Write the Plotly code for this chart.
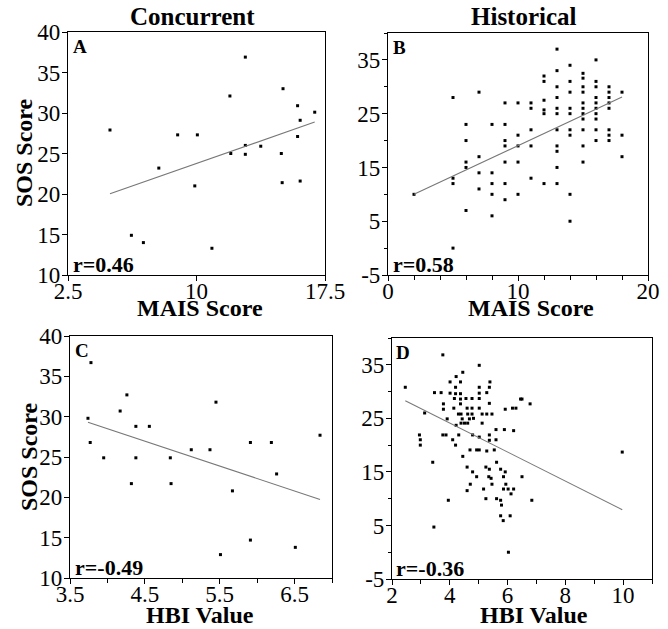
import numpy as np
import plotly.graph_objects as go

# ---------------- data ----------------
# Panel A: Concurrent, MAIS vs SOS
a_mais = [4.95, 6.2, 6.9, 7.8, 8.9, 9.9, 10.05, 10.9, 11.95, 12.0, 12.85, 12.85, 12.85,
          13.75, 14.95, 15.0, 15.05, 15.9, 15.9, 16.05, 16.05, 16.9]
a_sos = [27.9, 14.9, 14.0, 23.2, 27.3, 21.0, 27.3, 13.3, 32.1, 25.0, 36.9, 26.0, 24.9,
         25.9, 25.0, 21.4, 33.0, 30.9, 27.1, 29.1, 21.6, 30.1]
a_fit = [16.36, 0.741]   # intercept, slope

# Panel B: Historical, MAIS vs SOS (grouped by MAIS score)
b_groups = {
    2: [10],
    5: [28, 13, 12, 0],
    6: [23, 20, 16, 15, 7],
    7: [29, 17, 14, 11],
    8: [23, 14, 12, 10, 6],
    9: [27, 23, 20, 19, 16, 12, 9],
    10: [27, 21, 19, 16, 10],
    11: [27, 26, 22, 19, 13],
    12: [32, 31, 27.5, 25.7, 25, 12],
    13: [37, 33, 30, 28, 26, 25, 22, 19, 18, 15, 12],
    14: [34, 31, 29, 26, 25, 22, 21, 10, 5],
    15: [32.5, 31.6, 30, 29, 27, 26, 25, 24, 22, 19, 16],
    16: [35, 31, 30, 28, 27, 26, 25, 24, 22, 20],
    17: [30, 29, 28, 27, 26, 22, 21, 20],
    18: [29, 21, 17],
}
b_mais = [k for k, v in b_groups.items() for _ in v]
b_sos = [s for v in b_groups.values() for s in v]
b_fit = [7.74, 1.13]

# Panel C: Concurrent, HBI vs SOS
c_hbi = [3.78, 3.74, 3.77, 3.95, 4.17, 4.26, 4.32, 4.38, 4.38, 4.56, 4.84, 4.85, 5.12,
         5.37, 5.45, 5.51, 5.67, 5.91, 5.91, 6.19, 6.26, 6.51, 6.84]
c_sos = [36.7, 29.8, 26.8, 24.9, 30.7, 32.7, 21.7, 28.8, 24.9, 28.8, 24.9, 21.7, 25.9,
         25.9, 31.8, 12.9, 20.8, 26.8, 14.7, 26.8, 22.9, 13.8, 27.7]
c_fit = [40.87, -3.09]

# Panel D: Historical, HBI vs SOS
d_hbi = [3.76, 5.02, 4.45, 4.22, 4.01, 4.37, 5.02, 5.39, 5.37, 5.28, 5.02, 2.46, 3.47,
         3.70, 4.01, 4.20, 4.20, 4.37, 4.37, 3.78, 3.78, 4.16, 4.37, 4.56, 4.77, 5.02,
         5.37, 5.02, 4.14, 4.60, 4.77, 6.50, 6.45, 6.78, 5.92, 6.17, 6.29, 3.13, 4.30,
         4.39, 4.62, 4.77, 5.12, 5.28, 5.46, 3.91, 4.43, 4.68, 4.82, 5.12, 4.39, 4.51,
         4.62, 4.22, 5.60, 5.89, 6.21, 2.95, 3.76, 3.87, 4.31, 4.79, 5.02, 5.37, 2.98,
         4.10, 5.60, 5.37, 2.98, 4.20, 4.70, 4.93, 5.02, 5.28, 5.54, 4.45, 3.41, 5.62,
         4.60, 5.25, 5.37, 5.76, 4.79, 5.92, 4.93, 5.35, 5.43, 5.86, 6.50, 4.71, 5.46,
         5.94, 4.60, 5.17, 5.86, 6.02, 6.21, 6.12, 3.95, 5.25, 5.62, 5.76, 6.84, 5.79,
         5.76, 6.09, 5.85, 3.45, 6.03, 9.97]
d_sos = [36.85, 34.9, 33.6, 32.8, 31.8, 31.8, 30.8, 31.8, 30.8, 29.8, 29.7, 30.8, 29.8,
         29.8, 29.7, 30.8, 29.6, 29.6, 28.6, 27.7, 26.7, 28.7, 27.7, 28.7, 28.7, 28.7,
         27.8, 26.9, 26.9, 26.9, 26.9, 28.6, 28.6, 27.7, 26.7, 26.9, 26.9, 26.0, 25.8,
         25.8, 25.8, 25.8, 25.8, 25.8, 25.8, 24.9, 24.9, 24.9, 25.0, 24.1, 24.1, 24.1,
         24.1, 23.7, 22.9, 22.9, 22.7, 21.9, 21.9, 21.9, 21.9, 21.9, 21.5, 21.9, 21.0,
         21.0, 21.0, 20.9, 20.0, 20.0, 19.1, 19.1, 19.1, 18.9, 19.1, 17.9, 16.8, 16.8,
         15.9, 15.9, 15.5, 15.5, 15.0, 15.0, 14.1, 14.1, 13.8, 14.1, 14.1, 12.7, 12.7,
         12.7, 11.5, 11.8, 11.8, 11.8, 11.8, 10.9, 9.7, 10.0, 10.0, 9.7, 9.7, 8.8,
         6.8, 6.8, 5.9, 4.7, 0.0, 18.7]
d_fit = [34.97, -2.71]

panel_titles = ["Concurrent", "Historical"]
x_titles = ["MAIS Score", "MAIS Score", "HBI Value", "HBI Value"]
y_title = "SOS Score"
letters = ["A", "B", "C", "D"]
r_labels = ["r=0.46", "r=0.58", "r=-0.49", "r=-0.36"]

# ---------------- figure ----------------
W, H = 668, 629
FONT = "Liberation Serif"


def px(x):
    return x / W


def py(y):
    return 1 - y / H


fig = go.Figure()
panels = [(a_mais, a_sos, a_fit), (b_mais, b_sos, b_fit),
          (c_hbi, c_sos, c_fit), (d_hbi, d_sos, d_fit)]
for i, (xs, ys, fit) in enumerate(panels):
    sfx = "" if i == 0 else str(i + 1)
    fig.add_trace(go.Scatter(x=xs, y=ys, mode="markers", xaxis="x" + sfx, yaxis="y" + sfx,
                             marker=dict(symbol="square", size=3, color="black"),
                             showlegend=False, hoverinfo="x+y"))
    lx = np.array([min(xs), max(xs)])
    fig.add_trace(go.Scatter(x=lx, y=fit[0] + fit[1] * lx, mode="lines",
                             xaxis="x" + sfx, yaxis="y" + sfx,
                             line=dict(color="#777777", width=1.1),
                             showlegend=False, hoverinfo="skip"))

base = dict(showline=True, linecolor="black", linewidth=1.2, mirror=True,
            ticks="outside", ticklen=5, tickcolor="black", showgrid=False,
            zeroline=False, automargin=False,
            tickfont=dict(family=FONT, size=23, color="black"))
xcommon = dict(base, ticklabelstandoff=-10)
ycommon = dict(base, ticklabelstandoff=-3)

layout = dict(
    width=W, height=H, autosize=False,
    margin=dict(l=0, r=0, t=0, b=0, pad=0, autoexpand=False),
    font=dict(family=FONT, size=23, color="black"),
    paper_bgcolor="white", plot_bgcolor="white", showlegend=False,
    xaxis=dict(domain=[px(68), px(325)], range=[2.5, 17.5], anchor="y",
               tickvals=[2.5, 10, 17.5], ticktext=["2.5", "10", "17.5"], **xcommon),
    yaxis=dict(domain=[py(275), py(32)], range=[10, 40], anchor="x",
               tickvals=[10, 15, 20, 25, 30, 35, 40], **ycommon),
    xaxis2=dict(domain=[px(388), px(648)], range=[0, 20], anchor="y2",
                tickvals=[0, 10, 20],
                minor=dict(dtick=2, tick0=0, ticks="outside", ticklen=4, tickcolor="black"),
                **xcommon),
    yaxis2=dict(domain=[py(275), py(33)], range=[-5, 40], anchor="x2",
                tickvals=[-5, 5, 15, 25, 35], ticktext=["-5", "5", "15", "25", "35"],
                minor=dict(dtick=5, tick0=-5, ticks="outside", ticklen=3, tickcolor="black"),
                **ycommon),
    xaxis3=dict(domain=[px(70), px(332)], range=[3.5, 7.0], anchor="y3",
                tickvals=[3.5, 4.5, 5.5, 6.5],
                minor=dict(dtick=0.5, tick0=3.5, ticks="outside", ticklen=4, tickcolor="black"),
                **xcommon),
    yaxis3=dict(domain=[py(578), py(336)], range=[10, 40], anchor="x3",
                tickvals=[10, 15, 20, 25, 30, 35, 40], **ycommon),
    xaxis4=dict(domain=[px(392), px(652)], range=[2, 11], anchor="y4",
                tickvals=[2, 4, 6, 8, 10],
                minor=dict(dtick=1, tick0=2, ticks="outside", ticklen=4, tickcolor="black"),
                **xcommon),
    yaxis4=dict(domain=[py(579), py(338)], range=[-5, 40], anchor="x4",
                tickvals=[-5, 5, 15, 25, 35], ticktext=["-5", "5", "15", "25", "35"],
                minor=dict(dtick=5, tick0=-5, ticks="outside", ticklen=3, tickcolor="black"),
                **ycommon),
)
fig.update_layout(**layout)


def ann(text, x, y, size, xanchor="center", yanchor="middle", angle=0):
    fig.add_annotation(text="<b>" + text + "</b>", x=px(x), y=py(y), xref="paper", yref="paper",
                       xanchor=xanchor, yanchor=yanchor, showarrow=False, textangle=angle,
                       font=dict(family=FONT, size=size, color="black"))


# column titles
ann(panel_titles[0], 192, 16, 25)
ann(panel_titles[1], 524, 16, 25)
# x axis titles
ann(x_titles[0], 200, 308, 24)
ann(x_titles[1], 531, 308, 24)
ann(x_titles[2], 200, 615, 24)
ann(x_titles[3], 534, 615, 24)
# y axis titles
ann(y_title, 24, 153, 24, angle=-90)
ann(y_title, 29, 457, 24, angle=-90)
# panel letters
for letter, (lx, ty) in zip(letters, [(71, 34), (391, 35), (73, 338), (394, 340)]):
    ann(letter, lx, ty, 19, xanchor="left", yanchor="top")
# correlation labels
for lab, (lx, by) in zip(r_labels, [(71, 279), (391, 279), (73, 582), (394, 583)]):
    ann(lab, lx, by, 22, xanchor="left", yanchor="bottom")

fig.write_html("out.html", config={"displayModeBar": False},
               post_script="document.body.style.margin='0';")
